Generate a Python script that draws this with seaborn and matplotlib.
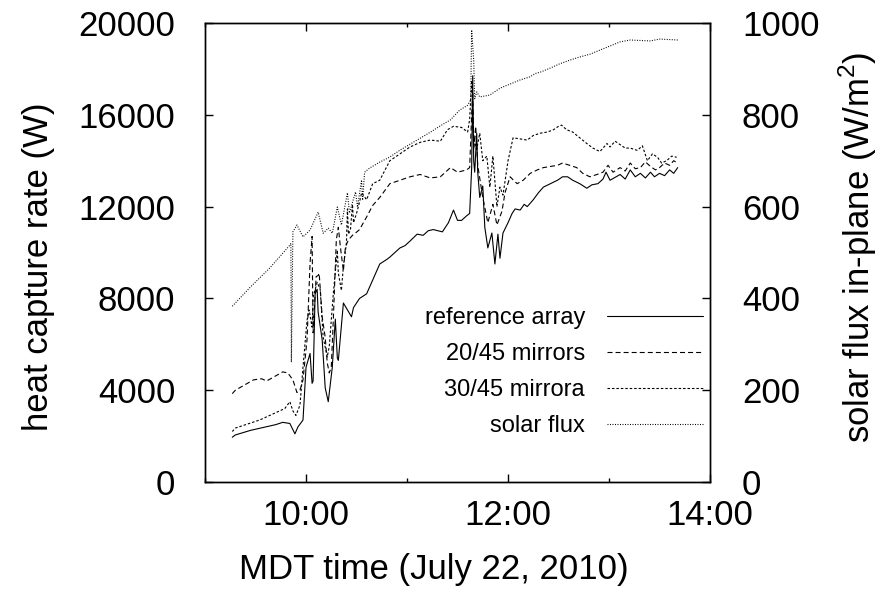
import numpy as np
import pandas as pd
import matplotlib
matplotlib.use("Agg")
import matplotlib.pyplot as plt
from matplotlib.ticker import MultipleLocator, FuncFormatter
import seaborn as sns

# tiempos en horas decimales (MDT)
t_ref = [9.27, 9.30, 9.45, 9.55, 9.70, 9.77, 9.84, 9.89, 9.92, 9.97, 10.00, 10.04, 10.06, 10.07,
         10.09, 10.11, 10.12, 10.16, 10.19, 10.22, 10.26, 10.29, 10.31, 10.32, 10.37, 10.41, 10.45,
         10.47, 10.53, 10.60, 10.66, 10.70, 10.73, 10.80, 10.83, 10.93, 10.98, 11.03, 11.10, 11.16,
         11.21, 11.26, 11.35, 11.41, 11.46, 11.50, 11.54, 11.59, 11.62, 11.64, 11.65, 11.66, 11.67,
         11.69, 11.70, 11.72, 11.75, 11.77, 11.80, 11.84, 11.87, 11.90, 11.92, 11.95, 12.00, 12.04,
         12.07, 12.12, 12.16, 12.19, 12.25, 12.30, 12.35, 12.42, 12.49, 12.54, 12.59, 12.64, 12.71,
         12.78, 12.83, 12.89, 12.94, 12.97, 13.01, 13.05, 13.11, 13.16, 13.21, 13.26, 13.31, 13.36,
         13.41, 13.45, 13.50, 13.55, 13.60, 13.64, 13.68]
ref_w = [1950, 2050, 2250, 2350, 2500, 2600, 2550, 2100, 2400, 2700, 5000, 5600, 4300, 4400,
         8200, 8400, 7400, 6200, 4100, 3500, 5000, 7100, 5400, 5300, 7800, 7500, 7200,
         7600, 8000, 8200, 8800, 9200, 9500, 9700, 9800, 10200, 10300, 10500, 10800, 10750,
         10950, 11000, 10900, 11300, 11850, 11400, 11400, 11600, 11700, 13700, 17700, 14000, 13500,
         15200, 13500, 12400, 12900, 11100, 10200, 10850, 9500, 10800, 9750, 10850, 11300, 11700,
         11900, 11850, 12100, 12000, 12300, 12600, 12850, 13000, 13150, 13300, 13300, 13150, 13000,
         12800, 12950, 13000, 13200, 13500, 13150, 13250, 13400, 13200, 13600, 13300, 13450, 13250,
         13500, 13300, 13450, 13350, 13600, 13450, 13700]

t_m20 = [9.27, 9.30, 9.48, 9.56, 9.61, 9.77, 9.82, 9.87, 9.91, 9.94, 9.97, 10.01, 10.04, 10.06,
         10.07, 10.10, 10.12, 10.13, 10.16, 10.19, 10.21, 10.23, 10.25, 10.27, 10.30, 10.32, 10.34,
         10.37, 10.39, 10.42, 10.46, 10.49, 10.53, 10.60, 10.66, 10.73, 10.83, 10.93, 11.03, 11.13,
         11.23, 11.33, 11.43, 11.50, 11.59, 11.62, 11.64, 11.65, 11.66, 11.68, 11.70, 11.75, 11.80,
         11.85, 11.89, 11.94, 11.97, 12.02, 12.09, 12.15, 12.22, 12.29, 12.35, 12.42, 12.49, 12.54,
         12.61, 12.68, 12.74, 12.81, 12.88, 12.94, 12.99, 13.04, 13.11, 13.16, 13.21, 13.26, 13.31,
         13.36, 13.41, 13.46, 13.50, 13.55, 13.60, 13.64, 13.68]
m20_w = [3850, 4000, 4450, 4500, 4400, 4800, 4750, 4450, 3900, 4000, 4450, 6200, 9550, 10700,
         6500, 8950, 9000, 9100, 7200, 6300, 5200, 4750, 5000, 7050, 10550, 11100, 10250,
         9200, 10250, 10550, 10750, 10850, 11000, 11550, 12050, 12400, 13000, 13150, 13300, 13400,
         13250, 13300, 13700, 13500, 13600, 13700, 16000, 17000, 14500, 15500, 13800, 12400, 11300,
         12100, 11200, 11800, 12600, 13300, 13000, 13150, 13450, 13600, 13700, 13750, 13800, 13900,
         13800, 13700, 13450, 13300, 13400, 13500, 13800, 13500, 13700, 13550, 13900, 13650, 13700,
         13950, 13750, 13600, 13700, 13900, 13800, 14000, 13900]

t_m30 = [9.27, 9.30, 9.54, 9.79, 9.84, 9.87, 9.90, 9.94, 9.97, 10.01, 10.03, 10.06, 10.07, 10.11,
         10.14, 10.17, 10.21, 10.23, 10.27, 10.31, 10.32, 10.35, 10.37, 10.40, 10.41, 10.42, 10.44,
         10.46, 10.47, 10.50, 10.53, 10.55, 10.60, 10.66, 10.73, 10.83, 10.93, 11.03, 11.13, 11.23,
         11.33, 11.40, 11.46, 11.54, 11.60, 11.62, 11.64, 11.65, 11.66, 11.69, 11.72, 11.75, 11.79,
         11.82, 11.85, 11.89, 11.92, 11.95, 12.00, 12.05, 12.12, 12.19, 12.25, 12.32, 12.39, 12.45,
         12.50, 12.53, 12.58, 12.64, 12.71, 12.78, 12.84, 12.91, 12.98, 13.01, 13.06, 13.11, 13.16,
         13.21, 13.28, 13.33, 13.38, 13.43, 13.48, 13.52, 13.57, 13.62, 13.67]
m30_w = [2200, 2350, 2700, 3200, 3500, 3100, 2900, 3350, 5000, 7050, 7500, 6750, 8050, 8700,
         8400, 6300, 5450, 5900, 8200, 10100, 9100, 8350, 9400, 10400, 11900, 10800, 11000,
         12100, 11300, 11700, 12200, 12600, 12300, 13000, 13150, 14000, 14300, 14600, 14800, 14900,
         14850, 15350, 15500, 15450, 15250, 15800, 17500, 16500, 15000, 14500, 15200, 14000, 14200,
         12850, 14200, 12000, 12850, 12500, 14000, 15000, 14950, 14900, 15100, 15200, 15250, 15350,
         15500, 15550, 15350, 15250, 15000, 14750, 14550, 14400, 14750, 14600, 14850, 14700, 14550,
         14550, 14450, 14650, 14000, 14300, 14150, 13900, 14000, 14200, 14150]

t_sun = [9.27, 9.45, 9.64, 9.84, 9.85, 9.855, 9.87, 9.91, 9.97, 10.04, 10.12, 10.17, 10.22, 10.26,
         10.31, 10.35, 10.41, 10.43, 10.49, 10.51, 10.55, 10.56, 10.58, 10.63, 10.73, 10.83, 10.93,
         11.03, 11.13, 11.23, 11.33, 11.43, 11.52, 11.60, 11.63, 11.64, 11.66, 11.67, 11.69, 11.72,
         11.82, 11.92, 12.02, 12.12, 12.22, 12.27, 12.32, 12.42, 12.51, 12.61, 12.71, 12.81, 12.91,
         13.01, 13.11, 13.21, 13.31, 13.41, 13.50, 13.60, 13.68]
sun_wm2 = [383, 425, 466, 516, 520, 261, 545, 560, 534, 549, 588, 542, 553, 542,
           599, 560, 630, 586, 632, 599, 658, 614, 675, 684, 697, 708, 723,
           736, 749, 762, 776, 789, 810, 821, 832, 985, 919, 835, 850, 839,
           843, 858, 867, 876, 883, 890, 893, 902, 911, 919, 926, 932, 941,
           950, 959, 963, 962, 961, 965, 964, 963]

sns.set_style("ticks")
plt.rcParams['font.family'] = ['Liberation Sans', 'DejaVu Sans']
plt.rcParams['mathtext.fontset'] = 'custom'
plt.rcParams['mathtext.rm'] = 'Liberation Sans'
plt.rcParams['lines.scale_dashes'] = False
for k in ['text.color', 'axes.labelcolor', 'xtick.color', 'ytick.color', 'axes.edgecolor']:
    plt.rcParams[k] = 'black'

fig = plt.figure(figsize=(8.86, 5.92), dpi=100)
ax = fig.add_axes([0.2314, 0.1858, 0.5700, 0.7753])
ax2 = ax.twinx()

lw = 0.8
sns.lineplot(x=t_ref, y=ref_w, ax=ax, color='black', lw=lw, estimator=None, sort=False,
             label='reference array')
sns.lineplot(x=t_m20, y=m20_w, ax=ax, color='black', lw=lw, estimator=None, sort=False,
             linestyle=(0, (3.6, 2.2)), label='20/45 mirrors')
sns.lineplot(x=t_m30, y=m30_w, ax=ax, color='black', lw=lw, estimator=None, sort=False,
             linestyle=(0, (1.8, 1.4)), label='30/45 mirrora')
sns.lineplot(x=t_sun, y=sun_wm2, ax=ax2, color='black', lw=lw, estimator=None, sort=False,
             linestyle=(0, (0.7, 1.1)), label='solar flux')

h1, l1 = ax.get_legend_handles_labels()
h2, l2 = ax2.get_legend_handles_labels()
for a in (ax, ax2):
    if a.get_legend() is not None:
        a.get_legend().remove()
leg = ax2.legend(h1 + h2, l1 + l2, loc='lower right', bbox_to_anchor=(0.986, 0.098),
                 frameon=False, fontsize=17, markerfirst=False, alignment='right',
                 handlelength=4.05, handletextpad=0.95, labelspacing=0.59, borderpad=0,
                 borderaxespad=0)
for txt in leg.get_texts():
    txt.set_color('black')

ax.set_xlim(9, 14)
ax.set_ylim(0, 20000)
ax2.set_ylim(0, 1000)
ax.xaxis.set_major_locator(MultipleLocator(2))
ax.xaxis.set_minor_locator(MultipleLocator(1))
ax.xaxis.set_major_formatter(FuncFormatter(lambda h, p: f"{int(round(h))}:00"))
ax.yaxis.set_major_locator(MultipleLocator(4000))
ax2.yaxis.set_major_locator(MultipleLocator(200))

ax.tick_params(axis='x', which='both', direction='in', top=True, labelsize=25, pad=12)
ax.tick_params(axis='x', which='major', length=6, width=1)
ax.tick_params(axis='x', which='minor', length=3, width=1)
ax.tick_params(axis='y', direction='in', length=6, width=1, labelsize=25, pad=21.5, right=False)
ax2.tick_params(axis='y', direction='in', length=6, width=1, labelsize=25, pad=23)

for a in (ax, ax2):
    for s in a.spines.values():
        s.set_linewidth(1.0)
        s.set_color('black')

ax.set_xlabel('MDT time (July 22, 2010)', fontsize=25)
ax.set_ylabel('heat capture rate (W)', fontsize=25)
ax2.set_ylabel('solar flux in-plane (W/m$^2$)', fontsize=25)
ax.xaxis.label.set_va('center')
ax.yaxis.label.set_va('center')
ax2.yaxis.label.set_va('center')
ax.xaxis.set_label_coords(0.453, -0.19)
ax.yaxis.set_label_coords(-0.33, 0.47)
ax2.yaxis.set_label_coords(1.293, 0.512)

fig.savefig("out.png", dpi=100)
